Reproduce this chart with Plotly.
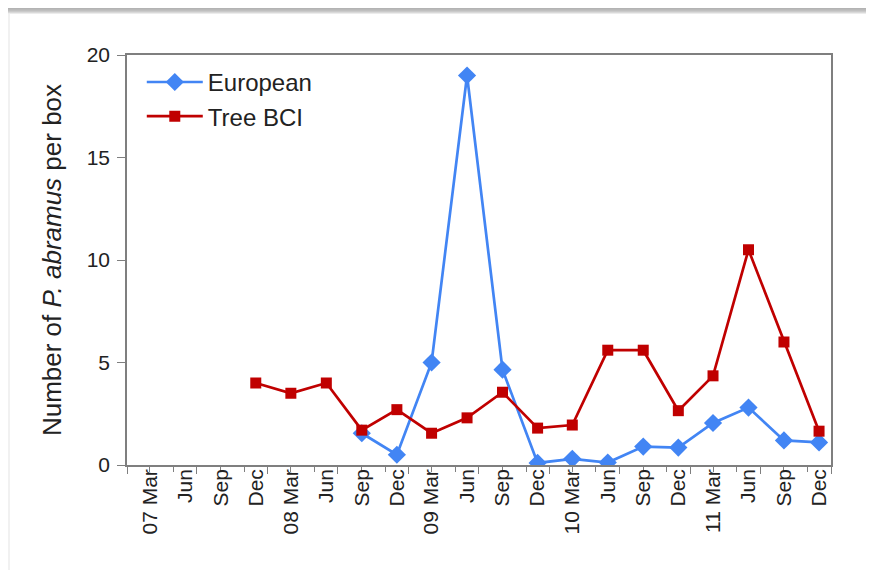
import plotly.graph_objects as go

dates = ["2007-03-01", "2007-06-01", "2007-09-01", "2007-12-01",
         "2008-03-01", "2008-06-01", "2008-09-01", "2008-12-01",
         "2009-03-01", "2009-06-01", "2009-09-01", "2009-12-01",
         "2010-03-01", "2010-06-01", "2010-09-01", "2010-12-01",
         "2011-03-01", "2011-06-01", "2011-09-01", "2011-12-01"]
tick_labels = ["07 Mar", "Jun", "Sep", "Dec", "08 Mar", "Jun", "Sep", "Dec",
               "09 Mar", "Jun", "Sep", "Dec", "10 Mar", "Jun", "Sep", "Dec",
               "11 Mar", "Jun", "Sep", "Dec"]
european = [None, None, None, None, None, None, 1.55, 0.5,
            5.0, 19.0, 4.65, 0.1, 0.3, 0.12, 0.9, 0.85,
            2.05, 2.8, 1.2, 1.1]
tree_bci = [None, None, None, 4.0, 3.5, 4.0, 1.7, 2.7,
            1.55, 2.3, 3.55, 1.8, 1.95, 5.6, 5.6, 2.65,
            4.35, 10.5, 6.0, 1.65]
long_ticks = ["2007-01-01", "2007-07-01", "2008-01-01", "2008-07-01", "2009-01-01",
              "2009-07-01", "2010-01-01", "2010-07-01", "2011-01-01", "2011-07-01",
              "2012-01-01"]

x_range = ["2007-01-01", "2012-01-01"]
axis_col = "#7f7f7f"
txt_col = "#222222"

# the page body has an 8px margin, so the figure is sized/margined to land the
# plot area at window x 127-831, y 55-465
W, H = 866, 562
ML, MR, MT, MB = 119, 43, 47, 105
PW, PH = W - ML - MR, H - MT - MB

fig = go.Figure()
fig.add_trace(go.Scatter(x=dates, y=european, name="European", mode="lines+markers",
                         line=dict(color="#4285F4", width=2.7),
                         marker=dict(symbol="diamond", size=14, color="#4285F4")))
fig.add_trace(go.Scatter(x=dates, y=tree_bci, name="Tree BCI", mode="lines+markers",
                         line=dict(color="#C00000", width=2.7),
                         marker=dict(symbol="square", size=11, color="#C00000")))

# top shadow band of the framed picture
for i, op in enumerate([0.6, 0.55, 0.5, 0.42, 0.3, 0.15]):
    fig.add_shape(type="rect", xref="paper", yref="paper",
                  x0=-ML / PW, x1=1 + MR / PW,
                  y0=1 + (MT - (i + 1)) / PH, y1=1 + (MT - i) / PH,
                  line=dict(width=0), fillcolor="gray", opacity=op, layer="below")
fig.add_shape(type="line", xref="paper", yref="paper",
              x0=-(ML - 1) / PW, x1=-(ML - 1) / PW, y0=-MB / PH, y1=1 + (MT - 6) / PH,
              line=dict(color="#ececec", width=1.5), layer="below")

fig.update_layout(
    width=W, height=H,
    margin=dict(l=ML, r=MR, t=MT, b=MB),
    paper_bgcolor="white", plot_bgcolor="white",
    font=dict(family="Liberation Sans, Arial, sans-serif", color=txt_col, size=19),
    showlegend=True,
    legend=dict(x=0.021, y=0.988, xanchor="left", yanchor="top",
                bgcolor="rgba(0,0,0,0)", font=dict(size=24), tracegroupgap=0,
                itemwidth=56),
    xaxis=dict(type="date", range=x_range, tickmode="array", tickvals=dates,
               ticktext=tick_labels, tickangle=-90, ticks="",
               ticklabelstandoff=-6,
               showline=True, linecolor=axis_col, linewidth=1.5, mirror=True,
               showgrid=False, zeroline=False, tickfont=dict(size=21),
               minor=dict(ticks="outside", ticklen=5, tickcolor=axis_col, tickwidth=1.2,
                          dtick="M2", tick0="2007-01-01", showgrid=False)),
    xaxis2=dict(type="date", range=x_range, overlaying="x", anchor="y", side="bottom",
                tickmode="array", tickvals=long_ticks, ticktext=[""] * len(long_ticks),
                ticks="outside", ticklen=8, tickcolor=axis_col, tickwidth=1.2,
                showline=False, showgrid=False, zeroline=False),
    yaxis=dict(range=[0, 20], dtick=5, ticks="outside", ticklen=8, tickcolor=axis_col,
               tickwidth=1.2, showline=True, linecolor=axis_col, linewidth=1.5, mirror=True,
               showgrid=False, zeroline=False, tickfont=dict(size=21),
               ticklabelstandoff=3,
               title=dict(text="Number of <i>P. abramus</i> per box",
                          font=dict(size=26), standoff=18)),
)
fig.add_trace(go.Scatter(x=[dates[0]], y=[None], xaxis="x2", showlegend=False,
                         hoverinfo="skip"))

fig.write_html("out.html")
